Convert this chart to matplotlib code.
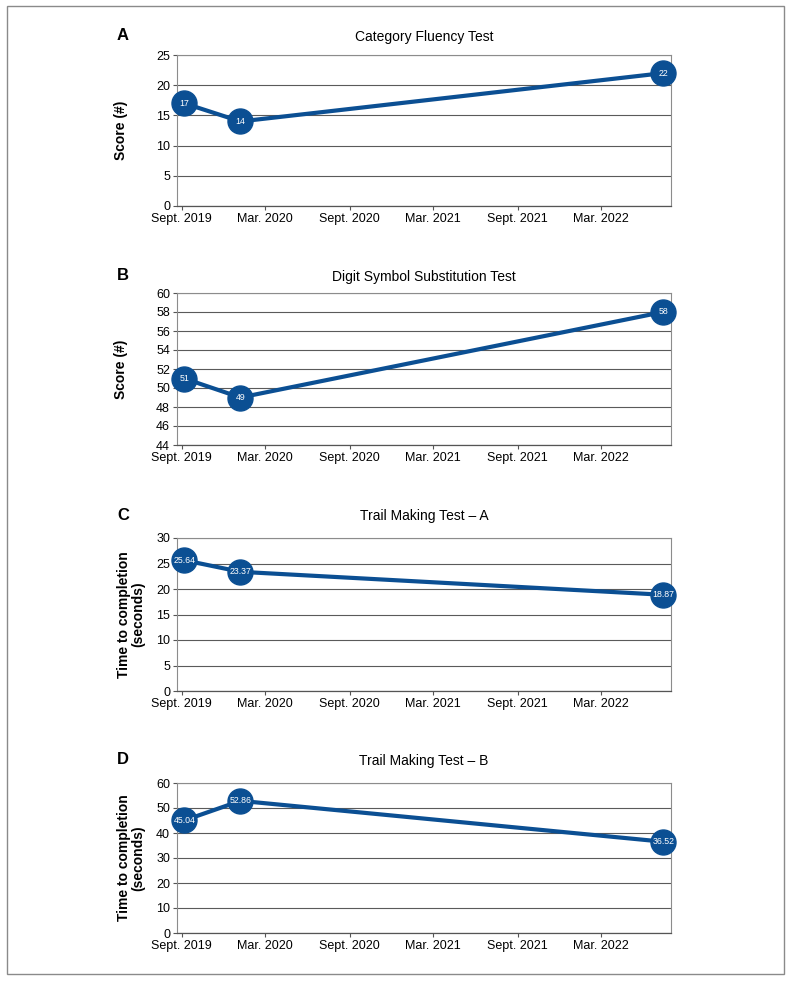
import datetime as dt
import matplotlib
matplotlib.use("Agg")
import matplotlib.pyplot as plt
from matplotlib.patches import Rectangle

plt.rcParams['font.family'] = ['Liberation Sans', 'DejaVu Sans']

# test dates
dates = [dt.datetime(2019, 9, 7), dt.datetime(2020, 1, 7), dt.datetime(2022, 7, 15)]

# scores / times per test
fluency = [17, 14, 22]
digit_symbol = [51, 49, 58]
trail_a = [25.64, 23.37, 18.87]
trail_b = [45.04, 52.86, 36.52]

fluency_labels = ['17', '14', '22']
digit_labels = ['51', '49', '58']
trail_a_labels = ['25.64', '23.37', '18.87']
trail_b_labels = ['45.04', '52.86', '36.52']

tick_dates = [dt.datetime(2019, 9, 1), dt.datetime(2020, 3, 1), dt.datetime(2020, 9, 1),
              dt.datetime(2021, 3, 1), dt.datetime(2021, 9, 1), dt.datetime(2022, 3, 1)]
tick_names = ['Sept. 2019', 'Mar. 2020', 'Sept. 2020', 'Mar. 2021', 'Sept. 2021', 'Mar. 2022']

panels = [
    ('A', 'Category Fluency Test', fluency, fluency_labels, 'Score (#)', (0, 25), list(range(0, 26, 5))),
    ('B', 'Digit Symbol Substitution Test', digit_symbol, digit_labels, 'Score (#)', (44, 60), list(range(44, 61, 2))),
    ('C', 'Trail Making Test \u2013 A', trail_a, trail_a_labels, 'Time to completion\n(seconds)', (0, 30), list(range(0, 31, 5))),
    ('D', 'Trail Making Test \u2013 B', trail_b, trail_b_labels, 'Time to completion\n(seconds)', (0, 60), list(range(0, 61, 10))),
]

# axes boxes in pixels: (top, bottom)
W, H = 791, 982
boxes = [(55, 206), (293, 445), (538, 691), (783, 933)]
title_pads = [10, 9, 13, 13]
letter_y = [35, 275, 515, 760]

blue = '#0b4f93'

fig = plt.figure(figsize=(W / 100, H / 100), dpi=100)
fig.patches.append(Rectangle((7 / W, 1 - 974 / H), 777 / W, 968 / H, transform=fig.transFigure,
                             fill=False, edgecolor='#8a8a8a', linewidth=1))

for i, (letter, title, vals, labels, ylabel, ylim, yticks) in enumerate(panels):
    top, bot = boxes[i]
    ax = fig.add_axes([177 / W, 1 - bot / H, 494 / W, (bot - top) / H])
    ax.set_ylim(*ylim)
    ax.set_yticks(yticks)
    ax.set_xlim(dt.datetime(2019, 8, 22), dt.datetime(2022, 8, 1))
    ax.set_xticks(tick_dates)
    ax.set_xticklabels(tick_names)
    ax.grid(axis='y', color='#5a5a5a', linewidth=0.8)
    ax.set_axisbelow(True)
    for s in ['top', 'right', 'left']:
        ax.spines[s].set_color('#8c8c8c')
        ax.spines[s].set_linewidth(0.8)
    ax.spines['bottom'].set_color('#555555')
    ax.spines['bottom'].set_linewidth(0.9)
    ax.tick_params(axis='both', labelsize=9, length=3, width=0.8, color='#555555', pad=2)

    ax.plot(dates, vals, color=blue, linewidth=3, marker='o', markersize=18,
            markerfacecolor=blue, markeredgecolor=blue, clip_on=False, zorder=3)
    for d, v, lab in zip(dates, vals, labels):
        ax.text(d, v, lab, color='white', fontsize=6.3, ha='center', va='center', zorder=4)

    ax.set_title(title, fontsize=10, pad=title_pads[i])
    ax.set_ylabel(ylabel, fontsize=10, fontweight='bold', linespacing=1.0)
    if '\n' in ylabel:
        ax.yaxis.set_label_coords(-0.065, 0.5)
    else:
        ax.yaxis.set_label_coords(-0.099, 0.5)
    fig.text(123 / W, 1 - letter_y[i] / H, letter, fontsize=12, fontweight='bold',
             ha='center', va='center')

fig.savefig('out.png', dpi=100)
